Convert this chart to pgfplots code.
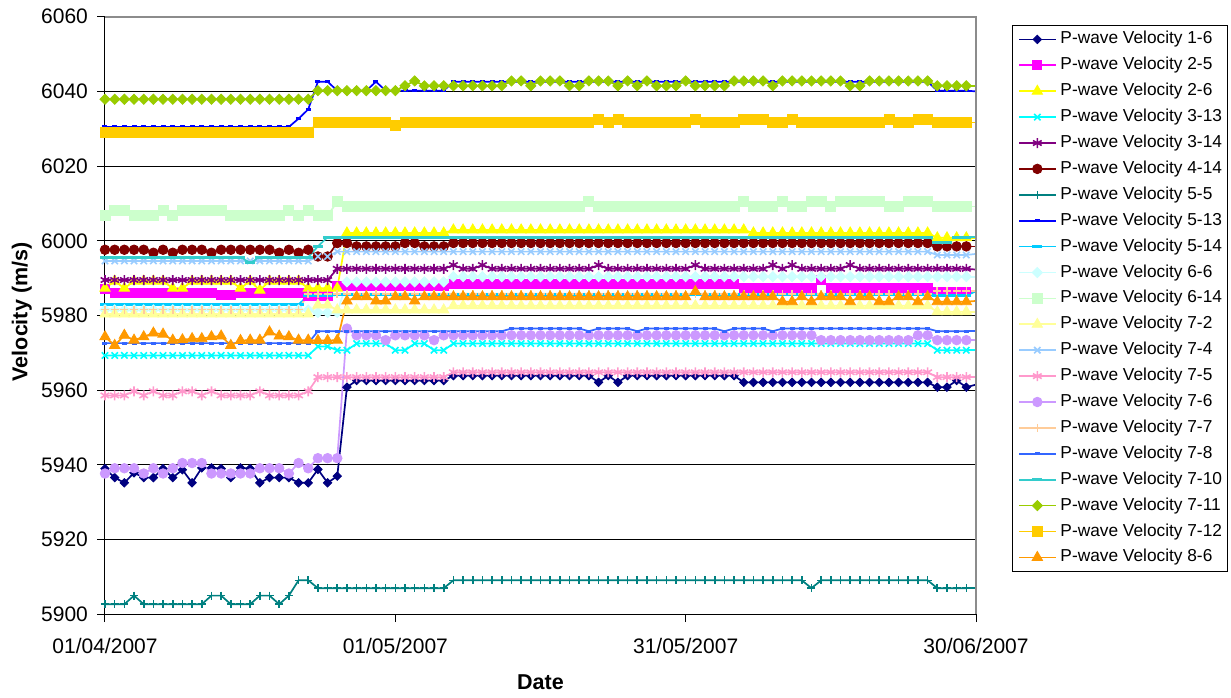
\documentclass[border=0pt]{standalone}
\usepackage{fontspec}
\setmainfont{Liberation Sans}
\usepackage{pgfplots}
\pgfplotsset{compat=1.18}
\definecolor{c1}{HTML}{000080}
\definecolor{c2}{HTML}{FF00FF}
\definecolor{c3}{HTML}{FFFF00}
\definecolor{c4}{HTML}{00FFFF}
\definecolor{c5}{HTML}{800080}
\definecolor{c6}{HTML}{800000}
\definecolor{c7}{HTML}{008080}
\definecolor{c8}{HTML}{0000FF}
\definecolor{c9}{HTML}{00CCFF}
\definecolor{c10}{HTML}{CCFFFF}
\definecolor{c11}{HTML}{CCFFCC}
\definecolor{c12}{HTML}{FFFF99}
\definecolor{c13}{HTML}{99CCFF}
\definecolor{c14}{HTML}{FF99CC}
\definecolor{c15}{HTML}{CC99FF}
\definecolor{c16}{HTML}{FFCC99}
\definecolor{c17}{HTML}{3366FF}
\definecolor{c18}{HTML}{33CCCC}
\definecolor{c19}{HTML}{99CC00}
\definecolor{c20}{HTML}{FFCC00}
\definecolor{c21}{HTML}{FF9900}
\pgfplotsset{
  s1/.style={color=c1, mark=square*, mark size=1.5pt, mark options={solid, rotate=45, line width=0.4pt}},
  s2/.style={color=c2, mark=square*, mark size=2.25pt, mark options={solid, line width=0.4pt}},
  s3/.style={color=c3, mark=triangle*, mark size=3pt, mark options={solid, line width=0.4pt}},
  s4/.style={color=c4, mark=x, mark size=2.25pt, mark options={solid, line width=0.8pt}},
  s5/.style={color=c5, mark=asterisk, mark size=2.5pt, mark options={solid, line width=0.8pt}},
  s6/.style={color=c6, mark=*, mark size=2.4pt, mark options={solid, line width=0.4pt}},
  s7/.style={color=c7, mark=+, mark size=2pt, mark options={solid, line width=0.8pt}},
  s8/.style={color=c8, mark=-, mark size=1.25pt, mark options={solid, line width=1.5pt}},
  s9/.style={color=c9, mark=-, mark size=2.5pt, mark options={solid, line width=1.5pt}},
  s10/.style={color=c10, mark=square*, mark size=1.8pt, mark options={solid, rotate=45, line width=0.4pt}},
  s11/.style={color=c11, mark=square*, mark size=2.5pt, mark options={solid, line width=0.4pt}},
  s12/.style={color=c12, mark=triangle*, mark size=3pt, mark options={solid, line width=0.4pt}},
  s13/.style={color=c13, mark=x, mark size=2.25pt, mark options={solid, line width=0.8pt}},
  s14/.style={color=c14, mark=asterisk, mark size=2.5pt, mark options={solid, line width=0.8pt}},
  s15/.style={color=c15, mark=*, mark size=2.4pt, mark options={solid, line width=0.4pt}},
  s16/.style={color=c16, mark=+, mark size=2pt, mark options={solid, line width=0.8pt}},
  s17/.style={color=c17, mark=-, mark size=1.25pt, mark options={solid, line width=1.5pt}},
  s18/.style={color=c18, mark=-, mark size=2.5pt, mark options={solid, line width=1.5pt}},
  s19/.style={color=c19, mark=square*, mark size=1.8pt, mark options={solid, rotate=45, line width=0.4pt}},
  s20/.style={color=c20, mark=square*, mark size=2.5pt, mark options={solid, line width=0.4pt}},
  s21/.style={color=c21, mark=triangle*, mark size=3pt, mark options={solid, line width=0.4pt}},
}
\begin{document}
\begin{tikzpicture}
\useasboundingbox (-52.5pt,-41.35pt) rectangle (563pt,307.15pt);
\begin{axis}[
  scale only axis, width=435.5pt, height=298.8pt,
  xmin=0, xmax=90, ymin=5900, ymax=6060,
  xtick={0,30,60,90}, xticklabels={01/04/2007,01/05/2007,31/05/2007,30/06/2007},
  ytick={5900,5920,...,6060},
  tick pos=left, tick align=outside, major tick length=3.9pt,
  tick style={black, line width=0.5pt},
  ymajorgrids, grid style={black, line width=0.5pt},
  axis line style={black, line width=0.5pt},
  tick label style={font=\fontsize{10.5pt}{12pt}\selectfont},
  /pgf/number format/assume math mode=true,
  /pgf/number format/1000 sep={},
  yticklabel style={anchor=east, inner sep=0pt, xshift=-4.45pt},
  xticklabel style={anchor=north, inner sep=0pt, yshift=-7.8pt},
  xlabel={Date}, ylabel={Velocity (m/s)},
  label style={font=\fontsize{10.75pt}{12pt}\selectfont\bfseries},
  xlabel style={at={(axis description cs:0.5,-0.1133)}, anchor=center, inner sep=0pt},
  ylabel style={at={(axis description cs:-0.0956,0.506)}, anchor=center, inner sep=0pt},
  legend style={at={(1.0413,0.9861)}, anchor=north west, draw=black, fill=white,
    inner xsep=2.9pt, inner ysep=2.85pt, row sep=4.65pt, column sep=2pt,
    font=\fontsize{8.65pt}{10pt}\selectfont,
    nodes={inner sep=0pt, text height=6.4pt, text depth=1.9pt, anchor=west}},
  legend cell align=left,
  legend image code/.code={\draw[mark repeat=2,mark phase=2,#1] plot coordinates {(0pt,0pt) (9.15pt,0pt) (18.3pt,0pt)};},
  every axis plot/.append style={line width=0.85pt},
  clip=false,
]
% 1-6
\addplot[s1] table[row sep=\\,header=false,x expr=\coordindex,y index=0]{
5939.0\\5936.6\\5935.2\\5937.9\\5936.6\\5936.6\\5939.0\\5936.6\\5938.7\\5935.2\\
5939.2\\5939.2\\5939.0\\5936.6\\5939.2\\5939.0\\5935.2\\5936.6\\5936.6\\5936.6\\
5935.2\\5935.2\\5938.8\\5935.2\\5937.0\\5960.8\\5962.6\\5962.6\\5962.6\\5962.6\\
5962.6\\5962.6\\5962.6\\5962.6\\5962.6\\5962.6\\5963.9\\5963.9\\5963.9\\5963.9\\
5963.9\\5963.9\\5963.9\\5963.9\\5963.9\\5963.9\\5963.9\\5963.9\\5963.9\\5963.9\\
5963.9\\5962.1\\5963.9\\5962.1\\5963.9\\5963.9\\5963.9\\5963.9\\5963.9\\5963.9\\
5963.9\\5963.9\\5963.9\\5963.9\\5963.9\\5963.9\\5962.1\\5962.1\\5962.1\\5962.1\\
5962.1\\5962.1\\5962.1\\5962.1\\5962.1\\5962.1\\5962.1\\5962.1\\5962.1\\5962.1\\
5962.1\\5962.1\\5962.1\\5962.1\\5962.1\\5962.1\\5960.8\\5960.8\\5962.6\\5960.8\\
};
\addlegendentry{P-wave Velocity 1-6}
\addplot[s1, mark=none, forget plot] coordinates {(89,5960.8)(90,5961.5)};
% 2-5
\addplot[s2] table[row sep=\\,header=false,x expr=\coordindex,y index=0]{
5987.2\\5986.0\\5986.0\\5986.0\\5986.0\\5986.0\\5986.0\\5986.0\\5986.0\\5986.0\\
5986.0\\5986.0\\5985.5\\5985.5\\5986.0\\5986.0\\5986.0\\5986.0\\5986.0\\5986.0\\
5986.0\\5985.3\\5985.3\\5985.3\\5988.0\\5988.0\\5988.0\\5988.0\\5988.0\\5988.0\\
5988.0\\5988.0\\5988.0\\5988.0\\5988.0\\5988.0\\5988.4\\5988.4\\5988.4\\5988.4\\
5988.4\\5988.4\\5988.4\\5988.4\\5988.4\\5988.4\\5988.4\\5988.4\\5988.4\\5988.4\\
5988.4\\5988.4\\5988.4\\5988.4\\5988.4\\5988.4\\5988.4\\5988.4\\5988.4\\5988.4\\
5988.4\\5988.4\\5988.4\\5988.4\\5988.4\\5988.4\\5987.3\\5987.3\\5987.3\\5987.3\\
5987.3\\5987.3\\5987.3\\5987.3\\5989.5\\5987.3\\5987.3\\5987.3\\5987.3\\5987.3\\
5987.3\\5987.3\\5987.3\\5987.3\\5987.3\\5987.3\\5986.3\\5986.3\\5986.3\\5986.3\\
};
\addlegendentry{P-wave Velocity 2-5}
\addplot[s2, mark=none, forget plot] coordinates {(89,5986.3)(90,5986.3)};
% 2-6
\addplot[s3] table[row sep=\\,header=false,x expr=\coordindex,y index=0]{
5987.3\\5989.2\\5987.3\\5989.2\\5989.2\\5989.2\\5989.2\\5987.3\\5987.3\\5989.2\\
5989.2\\5989.2\\5989.2\\5989.2\\5987.3\\5989.2\\5986.8\\5989.2\\5989.2\\5989.2\\
5989.2\\5987.3\\5987.3\\5987.3\\5987.3\\6002.1\\6002.1\\6002.1\\6002.1\\6002.1\\
6002.1\\6002.1\\6002.1\\6002.1\\6002.1\\6002.1\\6002.9\\6002.9\\6002.9\\6002.9\\
6002.9\\6002.9\\6002.9\\6002.9\\6002.9\\6002.9\\6002.9\\6002.9\\6002.9\\6002.9\\
6002.9\\6002.9\\6002.9\\6002.9\\6002.9\\6002.9\\6002.9\\6002.9\\6002.9\\6002.9\\
6002.9\\6002.9\\6002.9\\6002.9\\6002.9\\6002.9\\6002.9\\6002.1\\6002.1\\6002.1\\
6002.1\\6002.1\\6002.1\\6002.1\\6002.1\\6002.1\\6002.1\\6002.1\\6002.1\\6002.1\\
6002.1\\6002.1\\6002.1\\6002.1\\6002.1\\6002.1\\6000.8\\6000.8\\6000.8\\6000.8\\
};
\addlegendentry{P-wave Velocity 2-6}
\addplot[s3, mark=none, forget plot] coordinates {(89,6000.8)(90,6000.8)};
% 3-13
\addplot[s4] table[row sep=\\,header=false,x expr=\coordindex,y index=0]{
5969.3\\5969.3\\5969.3\\5969.3\\5969.3\\5969.3\\5969.3\\5969.3\\5969.3\\5969.3\\
5969.3\\5969.3\\5969.3\\5969.3\\5969.3\\5969.3\\5969.3\\5969.3\\5969.3\\5969.3\\
5969.3\\5969.3\\5971.7\\5971.7\\5970.7\\5970.7\\5972.5\\5972.5\\5972.5\\5972.5\\
5970.7\\5970.7\\5972.5\\5972.5\\5970.7\\5970.7\\5972.5\\5972.5\\5972.5\\5972.5\\
5972.5\\5972.5\\5972.5\\5972.5\\5972.5\\5972.5\\5972.5\\5972.5\\5972.5\\5972.5\\
5972.5\\5972.5\\5972.5\\5972.5\\5972.5\\5972.5\\5972.5\\5972.5\\5972.5\\5972.5\\
5972.5\\5972.5\\5972.5\\5972.5\\5972.5\\5972.5\\5972.5\\5972.5\\5972.5\\5972.5\\
5972.5\\5972.5\\5972.5\\5972.5\\5972.5\\5972.5\\5972.5\\5972.5\\5972.5\\5972.5\\
5972.5\\5972.5\\5972.5\\5972.5\\5972.5\\5972.5\\5970.7\\5970.7\\5970.7\\5970.7\\
};
\addlegendentry{P-wave Velocity 3-13}
\addplot[s4, mark=none, forget plot] coordinates {(89,5970.7)(90,5970.7)};
% 3-14
\addplot[s5] table[row sep=\\,header=false,x expr=\coordindex,y index=0]{
5989.5\\5989.5\\5989.5\\5989.5\\5989.5\\5989.5\\5989.5\\5989.5\\5989.5\\5989.5\\
5989.5\\5989.5\\5989.5\\5989.5\\5989.5\\5989.5\\5989.5\\5989.5\\5989.5\\5989.5\\
5989.5\\5989.5\\5989.5\\5989.5\\5992.5\\5992.5\\5992.5\\5992.5\\5992.5\\5992.5\\
5992.5\\5992.5\\5992.5\\5992.5\\5992.5\\5992.5\\5993.5\\5992.5\\5992.5\\5993.5\\
5992.5\\5992.5\\5992.5\\5992.5\\5992.5\\5992.5\\5992.5\\5992.5\\5992.5\\5992.5\\
5992.5\\5993.5\\5992.5\\5992.5\\5992.5\\5992.5\\5992.5\\5992.5\\5992.5\\5992.5\\
5992.5\\5993.5\\5992.5\\5992.5\\5992.5\\5992.5\\5992.5\\5992.5\\5992.5\\5993.5\\
5992.5\\5993.5\\5992.5\\5992.5\\5992.5\\5992.5\\5992.5\\5993.5\\5992.5\\5992.5\\
5992.5\\5992.5\\5992.5\\5992.5\\5992.5\\5992.5\\5992.5\\5992.5\\5992.5\\5992.5\\
};
\addlegendentry{P-wave Velocity 3-14}
\addplot[s5, mark=none, forget plot] coordinates {(89,5992.5)(90,5992.3)};
% 4-14
\addplot[s6] table[row sep=\\,header=false,x expr=\coordindex,y index=0]{
5997.6\\5997.6\\5997.6\\5997.6\\5997.6\\5996.8\\5997.6\\5996.8\\5997.6\\5997.6\\
5997.6\\5996.8\\5997.6\\5997.6\\5997.6\\5997.6\\5997.6\\5997.6\\5996.8\\5997.6\\
5996.8\\5997.6\\5995.8\\5995.8\\5999.4\\5999.4\\5998.5\\5998.5\\5998.5\\5998.5\\
5998.5\\5999.4\\5999.4\\5998.5\\5998.5\\5998.5\\5999.4\\5999.4\\5999.4\\5999.4\\
5999.4\\5999.4\\5999.4\\5999.4\\5999.4\\5999.4\\5999.4\\5999.4\\5999.4\\5999.4\\
5999.4\\5999.4\\5999.4\\5999.4\\5999.4\\5999.4\\5999.4\\5999.4\\5999.4\\5999.4\\
5999.4\\5999.4\\5999.4\\5999.4\\5999.4\\5999.4\\5999.4\\5999.4\\5999.4\\5999.4\\
5999.4\\5999.4\\5999.4\\5999.4\\5999.4\\5999.4\\5999.4\\5999.4\\5999.4\\5999.4\\
5999.4\\5999.4\\5999.4\\5999.4\\5999.4\\5999.4\\5998.5\\5998.5\\5998.5\\5998.5\\
};
\addlegendentry{P-wave Velocity 4-14}
\addplot[s6, mark=none, forget plot] coordinates {(89,5998.5)(90,5998.5)};
% 5-5
\addplot[s7] table[row sep=\\,header=false,x expr=\coordindex,y index=0]{
5902.7\\5902.7\\5902.7\\5905.0\\5902.7\\5902.7\\5902.7\\5902.7\\5902.7\\5902.7\\
5902.7\\5905.0\\5905.0\\5902.7\\5902.7\\5902.7\\5905.0\\5905.0\\5902.7\\5905.0\\
5909.1\\5909.1\\5907.0\\5907.0\\5907.0\\5907.0\\5907.0\\5907.0\\5907.0\\5907.0\\
5907.0\\5907.0\\5907.0\\5907.0\\5907.0\\5907.0\\5909.1\\5909.1\\5909.1\\5909.1\\
5909.1\\5909.1\\5909.1\\5909.1\\5909.1\\5909.1\\5909.1\\5909.1\\5909.1\\5909.1\\
5909.1\\5909.1\\5909.1\\5909.1\\5909.1\\5909.1\\5909.1\\5909.1\\5909.1\\5909.1\\
5909.1\\5909.1\\5909.1\\5909.1\\5909.1\\5909.1\\5909.1\\5909.1\\5909.1\\5909.1\\
5909.1\\5909.1\\5909.1\\5907.0\\5909.1\\5909.1\\5909.1\\5909.1\\5909.1\\5909.1\\
5909.1\\5909.1\\5909.1\\5909.1\\5909.1\\5909.1\\5907.0\\5907.0\\5907.0\\5907.0\\
};
\addlegendentry{P-wave Velocity 5-5}
\addplot[s7, mark=none, forget plot] coordinates {(89,5907.0)(90,5907.0)};
% 5-13
\addplot[s8] table[row sep=\\,header=false,x expr=\coordindex,y index=0]{
6030.5\\6030.5\\6030.5\\6030.5\\6030.5\\6030.5\\6030.5\\6030.5\\6030.5\\6030.5\\
6030.5\\6030.5\\6030.5\\6030.5\\6030.5\\6030.5\\6030.5\\6030.5\\6030.5\\6030.5\\
6032.7\\6035.2\\6042.6\\6042.6\\6040.2\\6040.2\\6040.2\\6040.2\\6042.6\\6040.2\\
6040.2\\6040.2\\6040.2\\6040.2\\6040.2\\6040.2\\6042.6\\6042.6\\6042.6\\6042.6\\
6042.6\\6042.6\\6042.6\\6042.6\\6042.6\\6042.6\\6042.6\\6042.6\\6042.6\\6042.6\\
6042.6\\6042.6\\6042.6\\6042.6\\6042.6\\6042.6\\6042.6\\6042.6\\6042.6\\6042.6\\
6042.6\\6042.6\\6042.6\\6042.6\\6042.6\\6042.6\\6042.6\\6042.6\\6042.6\\6042.6\\
6042.6\\6042.6\\6042.6\\6042.6\\6042.6\\6042.6\\6042.6\\6042.6\\6042.6\\6042.6\\
6042.6\\6042.6\\6042.6\\6042.6\\6042.6\\6042.6\\6040.2\\6040.2\\6040.2\\6040.2\\
};
\addlegendentry{P-wave Velocity 5-13}
\addplot[s8, mark=none, forget plot] coordinates {(89,6040.2)(90,6040.0)};
% 5-14
\addplot[s9] table[row sep=\\,header=false,x expr=\coordindex,y index=0]{
5983.0\\5983.0\\5983.0\\5983.0\\5983.0\\5983.0\\5983.0\\5983.0\\5983.0\\5983.0\\
5983.0\\5983.0\\5983.0\\5983.0\\5983.0\\5983.0\\5983.0\\5983.0\\5983.0\\5983.0\\
5983.0\\5985.3\\5985.3\\5985.3\\5985.5\\5985.5\\5985.5\\5985.5\\5985.5\\5985.5\\
5985.5\\5985.5\\5985.5\\5985.5\\5985.5\\5985.5\\5985.5\\5985.5\\5985.5\\5985.5\\
5985.5\\5985.5\\5985.5\\5985.5\\5985.5\\5985.5\\5985.5\\5985.5\\5985.5\\5985.5\\
5985.5\\5985.5\\5985.5\\5985.5\\5985.5\\5985.5\\5985.5\\5985.5\\5985.5\\5985.5\\
5985.5\\5985.5\\5985.5\\5985.5\\5985.5\\5985.5\\5985.5\\5985.5\\5985.5\\5985.5\\
5985.5\\5985.5\\5985.5\\5985.5\\5985.5\\5985.5\\5985.5\\5985.5\\5985.5\\5985.5\\
5985.5\\5985.5\\5985.5\\5985.5\\5985.5\\5985.5\\5985.3\\5985.3\\5985.3\\5985.3\\
};
\addlegendentry{P-wave Velocity 5-14}
\addplot[s9, mark=none, forget plot] coordinates {(89,5985.3)(90,5986.5)};
% 6-6
\addplot[s10] table[row sep=\\,header=false,x expr=\coordindex,y index=0]{
5981.5\\5981.5\\5981.5\\5981.5\\5981.5\\5981.5\\5981.5\\5981.5\\5981.5\\5981.5\\
5981.5\\5981.5\\5981.5\\5981.5\\5981.5\\5981.5\\5981.5\\5981.5\\5981.5\\5981.5\\
5981.5\\5981.5\\5980.8\\5980.8\\5980.8\\5989.0\\5989.0\\5989.0\\5989.0\\5989.0\\
5989.0\\5989.0\\5989.0\\5989.0\\5989.0\\5989.0\\5990.4\\5990.4\\5990.4\\5990.4\\
5990.4\\5990.4\\5990.4\\5990.4\\5990.4\\5990.4\\5990.4\\5990.4\\5990.4\\5990.4\\
5990.4\\5990.4\\5990.4\\5990.4\\5990.4\\5990.4\\5990.4\\5990.4\\5990.4\\5990.4\\
5990.4\\5990.4\\5990.4\\5990.4\\5990.4\\5990.4\\5990.4\\5990.4\\5990.4\\5990.4\\
5990.4\\5990.4\\5990.4\\5990.4\\5990.4\\5990.4\\5990.4\\5990.4\\5990.4\\5990.4\\
5990.4\\5990.4\\5990.4\\5990.4\\5990.4\\5990.4\\5990.4\\5990.4\\5990.4\\5990.4\\
};
\addlegendentry{P-wave Velocity 6-6}
\addplot[s10, mark=none, forget plot] coordinates {(89,5990.4)(90,5990.4)};
% 6-14
\addplot[s11] table[row sep=\\,header=false,x expr=\coordindex,y index=0]{
6006.7\\6008.1\\6008.1\\6006.7\\6006.7\\6006.7\\6008.1\\6006.7\\6008.1\\6008.1\\
6008.1\\6008.1\\6008.1\\6006.7\\6006.7\\6006.7\\6006.7\\6006.7\\6006.7\\6008.1\\
6006.7\\6008.1\\6006.7\\6006.7\\6010.5\\6009.2\\6009.2\\6009.2\\6009.2\\6009.2\\
6009.2\\6009.2\\6009.2\\6009.2\\6009.2\\6009.2\\6009.2\\6009.2\\6009.2\\6009.2\\
6009.2\\6009.2\\6009.2\\6009.2\\6009.2\\6009.2\\6009.2\\6009.2\\6009.2\\6009.2\\
6010.5\\6009.2\\6009.2\\6009.2\\6009.2\\6009.2\\6009.2\\6009.2\\6009.2\\6009.2\\
6009.2\\6009.2\\6009.2\\6009.2\\6009.2\\6009.2\\6010.5\\6009.2\\6009.2\\6009.2\\
6010.5\\6009.2\\6009.2\\6010.5\\6010.5\\6009.2\\6010.5\\6010.5\\6010.5\\6010.5\\
6010.5\\6009.2\\6009.2\\6010.5\\6010.5\\6010.5\\6009.2\\6009.2\\6009.2\\6009.2\\
};
\addlegendentry{P-wave Velocity 6-14}
\addplot[s11, mark=none, forget plot] coordinates {(89,6009.2)(90,6009.2)};
% 7-2
\addplot[s12] table[row sep=\\,header=false,x expr=\coordindex,y index=0]{
5980.4\\5980.4\\5980.4\\5980.4\\5980.4\\5980.4\\5980.4\\5980.4\\5980.4\\5980.4\\
5980.4\\5980.4\\5980.4\\5980.4\\5980.4\\5980.4\\5980.4\\5980.4\\5980.4\\5980.4\\
5980.4\\5980.4\\5982.8\\5982.8\\5981.5\\5981.5\\5981.5\\5981.5\\5981.5\\5981.5\\
5981.5\\5981.5\\5981.5\\5981.5\\5981.5\\5981.5\\5982.6\\5982.6\\5982.6\\5982.6\\
5982.6\\5982.6\\5982.6\\5982.6\\5982.6\\5982.6\\5982.6\\5982.6\\5982.6\\5982.6\\
5982.6\\5982.6\\5982.6\\5982.6\\5982.6\\5982.6\\5982.6\\5982.6\\5982.6\\5982.6\\
5982.6\\5982.6\\5982.6\\5982.6\\5982.6\\5982.6\\5982.6\\5982.6\\5982.6\\5982.6\\
5982.6\\5982.6\\5982.6\\5982.6\\5982.6\\5982.6\\5982.6\\5982.6\\5982.6\\5982.6\\
5982.6\\5982.6\\5982.6\\5982.6\\5982.6\\5982.6\\5981.0\\5981.0\\5981.0\\5981.0\\
};
\addlegendentry{P-wave Velocity 7-2}
\addplot[s12, mark=none, forget plot] coordinates {(89,5981.0)(90,5981.0)};
% 7-4
\addplot[s13] table[row sep=\\,header=false,x expr=\coordindex,y index=0]{
5994.6\\5994.6\\5994.6\\5994.6\\5994.6\\5994.6\\5994.6\\5994.6\\5994.6\\5994.6\\
5994.6\\5994.6\\5994.6\\5994.6\\5994.6\\5994.6\\5994.6\\5994.6\\5994.6\\5994.6\\
5994.6\\5994.6\\5995.8\\5995.8\\5997.1\\5997.1\\5997.1\\5997.1\\5997.1\\5997.1\\
5997.1\\5997.1\\5997.1\\5997.1\\5997.1\\5997.1\\5997.1\\5997.1\\5997.1\\5997.1\\
5997.1\\5997.1\\5997.1\\5997.1\\5997.1\\5997.1\\5997.1\\5997.1\\5997.1\\5997.1\\
5997.1\\5997.1\\5997.1\\5997.1\\5997.1\\5997.1\\5997.1\\5997.1\\5997.1\\5997.1\\
5997.1\\5997.1\\5997.1\\5997.1\\5997.1\\5997.1\\5997.1\\5997.1\\5997.1\\5997.1\\
5997.1\\5997.1\\5997.1\\5997.1\\5997.1\\5997.1\\5997.1\\5997.1\\5997.1\\5997.1\\
5997.1\\5997.1\\5997.1\\5997.1\\5997.1\\5997.1\\5996.2\\5996.2\\5996.2\\5996.2\\
};
\addlegendentry{P-wave Velocity 7-4}
\addplot[s13, mark=none, forget plot] coordinates {(89,5996.2)(90,5996.5)};
% 7-5
\addplot[s14] table[row sep=\\,header=false,x expr=\coordindex,y index=0]{
5958.6\\5958.6\\5958.6\\5959.7\\5958.6\\5959.7\\5958.6\\5958.6\\5959.7\\5959.7\\
5958.6\\5959.7\\5958.6\\5958.6\\5958.6\\5958.6\\5959.7\\5958.6\\5958.6\\5958.6\\
5958.6\\5959.7\\5963.5\\5963.5\\5963.5\\5963.5\\5963.5\\5963.5\\5963.5\\5963.5\\
5963.5\\5963.5\\5963.5\\5963.5\\5963.5\\5963.5\\5964.8\\5964.8\\5964.8\\5964.8\\
5964.8\\5964.8\\5964.8\\5964.8\\5964.8\\5964.8\\5964.8\\5964.8\\5964.8\\5964.8\\
5964.8\\5964.8\\5964.8\\5964.8\\5964.8\\5964.8\\5964.8\\5964.8\\5964.8\\5964.8\\
5964.8\\5964.8\\5964.8\\5964.8\\5964.8\\5964.8\\5964.8\\5964.8\\5964.8\\5964.8\\
5964.8\\5964.8\\5964.8\\5964.8\\5964.8\\5964.8\\5964.8\\5964.8\\5964.8\\5964.8\\
5964.8\\5964.8\\5964.8\\5964.8\\5964.8\\5964.8\\5963.5\\5963.5\\5963.5\\5963.5\\
};
\addlegendentry{P-wave Velocity 7-5}
\addplot[s14, mark=none, forget plot] coordinates {(89,5963.5)(90,5963.5)};
% 7-6
\addplot[s15] table[row sep=\\,header=false,x expr=\coordindex,y index=0]{
5937.7\\5939.1\\5939.1\\5939.1\\5937.7\\5939.1\\5937.7\\5939.1\\5940.5\\5940.5\\
5940.5\\5937.7\\5937.7\\5937.7\\5937.7\\5937.7\\5939.1\\5939.1\\5939.1\\5937.7\\
5940.5\\5939.1\\5941.8\\5941.8\\5941.8\\5976.5\\5974.7\\5974.7\\5974.7\\5973.4\\
5974.7\\5974.7\\5974.7\\5974.7\\5973.4\\5974.7\\5974.7\\5974.7\\5974.7\\5974.7\\
5974.7\\5974.7\\5974.7\\5974.7\\5974.7\\5974.7\\5974.7\\5974.7\\5974.7\\5974.7\\
5974.7\\5974.7\\5974.7\\5974.7\\5974.7\\5974.7\\5974.7\\5974.7\\5974.7\\5974.7\\
5974.7\\5974.7\\5974.7\\5974.7\\5974.7\\5974.7\\5974.7\\5974.7\\5974.7\\5974.7\\
5974.7\\5974.7\\5974.7\\5974.7\\5973.4\\5973.4\\5973.4\\5973.4\\5973.4\\5973.4\\
5973.4\\5973.4\\5973.4\\5973.4\\5974.7\\5974.7\\5973.4\\5973.4\\5973.4\\5973.4\\
};
\addlegendentry{P-wave Velocity 7-6}
\addplot[s15, mark=none, forget plot] coordinates {(89,5973.4)(90,5973.4)};
% 7-7
\addplot[s16] table[row sep=\\,header=false,x expr=\coordindex,y index=0]{
5981.6\\5981.6\\5981.6\\5981.6\\5981.6\\5981.6\\5981.6\\5981.6\\5981.6\\5981.6\\
5981.6\\5981.6\\5981.6\\5981.6\\5981.6\\5981.6\\5981.6\\5981.6\\5981.6\\5981.6\\
5981.6\\5985.8\\5985.8\\5985.8\\5985.8\\5985.8\\5985.8\\5985.8\\5985.8\\5985.8\\
5985.8\\5985.8\\5985.8\\5985.8\\5985.8\\5985.8\\5985.8\\5985.8\\5985.8\\5985.8\\
5985.8\\5985.8\\5985.8\\5985.8\\5985.8\\5985.8\\5985.8\\5985.8\\5985.8\\5985.8\\
5985.8\\5985.8\\5985.8\\5985.8\\5985.8\\5985.8\\5985.8\\5985.8\\5985.8\\5985.8\\
5985.8\\5985.8\\5985.8\\5985.8\\5985.8\\5985.8\\5985.8\\5985.8\\5985.8\\5985.8\\
5985.8\\5985.8\\5985.8\\5985.8\\5985.8\\5985.8\\5985.8\\5985.8\\5985.8\\5985.8\\
5985.8\\5985.8\\5985.8\\5985.8\\5985.8\\5985.8\\5986.6\\5986.6\\5986.6\\5986.6\\
};
\addlegendentry{P-wave Velocity 7-7}
\addplot[s16, mark=none, forget plot] coordinates {(89,5986.6)(90,5986.6)};
% 7-8
\addplot[s17] table[row sep=\\,header=false,x expr=\coordindex,y index=0]{
5972.6\\5972.6\\5972.6\\5972.6\\5972.6\\5972.6\\5972.6\\5972.6\\5972.6\\5972.6\\
5972.6\\5972.6\\5972.6\\5972.6\\5972.6\\5972.6\\5972.6\\5972.6\\5972.6\\5972.6\\
5972.6\\5972.6\\5975.8\\5975.8\\5975.8\\5975.8\\5975.8\\5975.8\\5975.8\\5975.8\\
5975.8\\5975.8\\5975.8\\5975.8\\5975.8\\5975.8\\5975.8\\5975.8\\5975.8\\5975.8\\
5975.8\\5975.8\\5976.5\\5976.5\\5976.5\\5976.5\\5976.5\\5976.5\\5976.5\\5976.5\\
5975.8\\5976.5\\5976.5\\5976.5\\5976.5\\5975.8\\5976.5\\5976.5\\5976.5\\5976.5\\
5976.5\\5976.5\\5976.5\\5976.5\\5975.8\\5976.5\\5976.5\\5976.5\\5976.5\\5975.8\\
5976.5\\5976.5\\5976.5\\5976.5\\5976.5\\5976.5\\5976.5\\5976.5\\5976.5\\5976.5\\
5976.5\\5976.5\\5976.5\\5976.5\\5976.5\\5976.5\\5975.8\\5975.8\\5975.8\\5975.8\\
};
\addlegendentry{P-wave Velocity 7-8}
\addplot[s17, mark=none, forget plot] coordinates {(89,5975.8)(90,5975.8)};
% 7-10
\addplot[s18] table[row sep=\\,header=false,x expr=\coordindex,y index=0]{
5995.6\\5995.6\\5995.6\\5995.6\\5995.6\\5995.6\\5995.6\\5995.6\\5995.6\\5995.6\\
5995.6\\5995.6\\5995.6\\5995.6\\5995.6\\5994.1\\5995.6\\5995.6\\5995.6\\5995.6\\
5995.6\\5995.6\\5998.5\\6001.0\\6001.0\\6001.0\\6001.0\\6001.0\\6001.0\\6001.0\\
6001.0\\6001.0\\6001.0\\6001.0\\6001.0\\6001.0\\6001.0\\6001.0\\6001.0\\6001.0\\
6001.0\\6001.0\\6001.0\\6001.0\\6001.0\\6001.0\\6001.0\\6001.0\\6001.0\\6001.0\\
6001.0\\6001.0\\6001.0\\6001.0\\6001.0\\6001.0\\6001.0\\6001.0\\6001.0\\6001.0\\
6001.0\\6001.0\\6001.0\\6001.0\\6001.0\\6001.0\\6001.0\\6001.0\\6001.0\\6001.0\\
6001.0\\6001.0\\6001.0\\6001.0\\6001.0\\6001.0\\6001.0\\6001.0\\6001.0\\6001.0\\
6001.0\\6001.0\\6001.0\\6001.0\\6001.0\\6001.0\\5999.6\\5999.6\\6001.0\\6001.0\\
};
\addlegendentry{P-wave Velocity 7-10}
\addplot[s18, mark=none, forget plot] coordinates {(89,6001.0)(90,6001.0)};
% 7-11
\addplot[s19] table[row sep=\\,header=false,x expr=\coordindex,y index=0]{
6037.9\\6037.9\\6037.9\\6037.9\\6037.9\\6037.9\\6037.9\\6037.9\\6037.9\\6037.9\\
6037.9\\6037.9\\6037.9\\6037.9\\6037.9\\6037.9\\6037.9\\6037.9\\6037.9\\6037.9\\
6037.9\\6037.9\\6040.2\\6040.2\\6040.2\\6040.2\\6040.2\\6040.2\\6040.2\\6040.2\\
6040.2\\6041.5\\6042.8\\6041.5\\6041.5\\6041.5\\6041.5\\6041.5\\6041.5\\6041.5\\
6041.5\\6041.5\\6042.8\\6042.8\\6041.5\\6042.8\\6042.8\\6042.8\\6041.5\\6041.5\\
6042.8\\6042.8\\6042.8\\6041.5\\6042.8\\6041.5\\6042.8\\6041.5\\6041.5\\6041.5\\
6042.8\\6041.5\\6041.5\\6041.5\\6041.5\\6042.8\\6042.8\\6042.8\\6042.8\\6041.5\\
6042.8\\6042.8\\6042.8\\6042.8\\6042.8\\6042.8\\6042.8\\6041.5\\6041.5\\6042.8\\
6042.8\\6042.8\\6042.8\\6042.8\\6042.8\\6042.8\\6041.5\\6041.5\\6041.5\\6041.5\\
};
\addlegendentry{P-wave Velocity 7-11}
\addplot[s19, mark=none, forget plot] coordinates {(89,6041.5)(90,6041.5)};
% 7-12
\addplot[s20] table[row sep=\\,header=false,x expr=\coordindex,y index=0]{
6029.0\\6029.0\\6029.0\\6029.0\\6029.0\\6029.0\\6029.0\\6029.0\\6029.0\\6029.0\\
6029.0\\6029.0\\6029.0\\6029.0\\6029.0\\6029.0\\6029.0\\6029.0\\6029.0\\6029.0\\
6029.0\\6029.0\\6031.7\\6031.7\\6031.7\\6031.7\\6031.7\\6031.7\\6031.7\\6031.7\\
6030.8\\6031.7\\6031.7\\6031.7\\6031.7\\6031.7\\6031.7\\6031.7\\6031.7\\6031.7\\
6031.7\\6031.7\\6031.7\\6031.7\\6031.7\\6031.7\\6031.7\\6031.7\\6031.7\\6031.7\\
6031.7\\6032.5\\6031.7\\6032.5\\6031.7\\6031.7\\6031.7\\6031.7\\6031.7\\6031.7\\
6031.7\\6032.5\\6031.7\\6031.7\\6031.7\\6031.7\\6032.5\\6032.5\\6032.5\\6031.7\\
6031.7\\6032.5\\6031.7\\6031.7\\6031.7\\6031.7\\6031.7\\6031.7\\6031.7\\6031.7\\
6031.7\\6032.5\\6031.7\\6031.7\\6032.5\\6032.5\\6031.7\\6031.7\\6031.7\\6031.7\\
};
\addlegendentry{P-wave Velocity 7-12}
\addplot[s20, mark=none, forget plot] coordinates {(89,6031.7)(90,6031.7)};
% 8-6
\addplot[s21] table[row sep=\\,header=false,x expr=\coordindex,y index=0]{
5974.3\\5972.0\\5974.7\\5973.4\\5974.3\\5975.3\\5975.0\\5973.4\\5973.5\\5973.8\\
5973.8\\5974.3\\5974.5\\5972.0\\5973.3\\5973.4\\5973.4\\5975.6\\5974.5\\5974.3\\
5973.4\\5973.4\\5973.3\\5973.3\\5973.4\\5983.9\\5985.0\\5985.0\\5983.9\\5983.9\\
5985.0\\5985.0\\5983.9\\5985.0\\5985.0\\5985.0\\5985.0\\5985.0\\5985.0\\5985.0\\
5985.0\\5985.0\\5985.0\\5985.0\\5985.0\\5985.0\\5985.0\\5985.0\\5985.0\\5985.0\\
5985.0\\5985.0\\5985.0\\5985.0\\5985.0\\5985.0\\5985.0\\5985.0\\5985.0\\5985.0\\
5985.0\\5986.4\\5985.0\\5985.0\\5985.0\\5985.0\\5985.0\\5985.0\\5985.0\\5985.0\\
5983.7\\5983.7\\5985.0\\5983.7\\5985.0\\5985.0\\5985.0\\5983.7\\5985.0\\5985.0\\
5983.7\\5983.7\\5985.0\\5985.0\\5983.7\\5985.0\\5983.7\\5983.7\\5983.7\\5983.7\\
};
\addlegendentry{P-wave Velocity 8-6}
\addplot[s21, mark=none, forget plot] coordinates {(89,5983.7)(90,5983.9)};
\draw[color=black!45, line width=1pt] (rel axis cs:0,1) -- (rel axis cs:1,1) -- (rel axis cs:1,0);
\end{axis}
\end{tikzpicture}
\end{document}
